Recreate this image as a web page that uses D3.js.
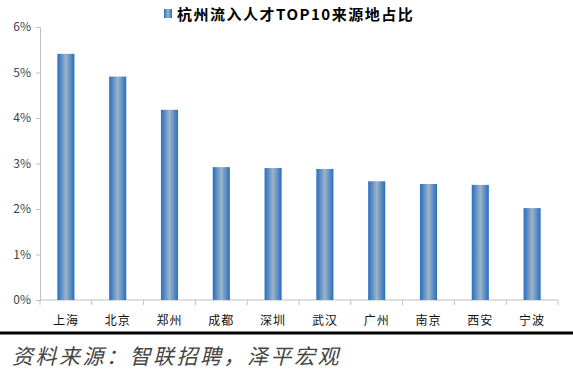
<!DOCTYPE html>
<html>
<head>
<meta charset="utf-8">
<script src="https://cdn.jsdelivr.net/npm/d3@7"></script>
<style>
  body { margin: 0; background: #fff; }
  text { font-family: "Noto Sans CJK SC", "DejaVu Sans", sans-serif; }
</style>
</head>
<body>
<div id="chart"></div>
<script>
// data
let cities = ['上海', '北京', '郑州', '成都', '深圳', '武汉', '广州', '南京', '西安', '宁波'];
let shares = [0.0541, 0.0491, 0.0418, 0.0292, 0.0290, 0.0288, 0.0261, 0.0255, 0.0253, 0.0202];
let yTicks = [0, 0.01, 0.02, 0.03, 0.04, 0.05, 0.06];
let title = '杭州流入人才TOP10来源地占比';
let source = '资料来源：智联招聘，泽平宏观';

let W = 573, H = 375;
let margin = {top: 27, right: 15, bottom: 75, left: 40};
let width = W - margin.left - margin.right;
let height = H - margin.top - margin.bottom;

let svg = d3.select('#chart')
    .append('svg')
    .attr('width', W)
    .attr('height', H);

// bar gradient
let grad = svg.append('defs').append('linearGradient')
    .attr('id', 'barGrad')
    .attr('x1', '0%').attr('x2', '100%')
    .attr('y1', '0%').attr('y2', '0%');
grad.append('stop').attr('offset', '0%').attr('stop-color', '#2a6fc2');
grad.append('stop').attr('offset', '15%').attr('stop-color', '#4a82c2');
grad.append('stop').attr('offset', '50%').attr('stop-color', '#9db4c8');
grad.append('stop').attr('offset', '85%').attr('stop-color', '#4a82c2');
grad.append('stop').attr('offset', '100%').attr('stop-color', '#2a6fc2');

let g = svg.append('g').attr('transform', 'translate(' + margin.left + ',' + margin.top + ')');

//Scales
let x = d3.scaleBand().domain(cities).range([0, width]).paddingInner(0.67).paddingOuter(0.335);
let xTickScale = d3.scaleBand().domain(cities).range([0, width]);
let y = d3.scaleLinear().domain([0, 0.06]).range([height, 0]);

//Y Axis
let yAxisCall = d3.axisLeft(y).tickValues(yTicks).tickFormat(d3.format('.0%')).tickSize(4).tickPadding(5);
let yAxis = g.append('g').call(yAxisCall);
yAxis.select('.domain').attr('stroke', '#bfbfbf');
yAxis.selectAll('.tick line').attr('stroke', '#bfbfbf');
yAxis.selectAll('.tick text').attr('font-size', '12px').attr('fill', '#444');

//X Axis
let xAxis = g.append('g').attr('transform', 'translate(0,' + height + ')');
xAxis.append('line')
    .attr('x1', 0).attr('x2', width)
    .attr('y1', 0).attr('y2', 0)
    .attr('stroke', '#bfbfbf');
xAxis.selectAll('.sep')
    .data(cities.concat(['end']))
    .enter()
    .append('line')
    .attr('x1', function (d, i) { return i * xTickScale.bandwidth(); })
    .attr('x2', function (d, i) { return i * xTickScale.bandwidth(); })
    .attr('y1', 0).attr('y2', 5)
    .attr('stroke', '#bfbfbf');
xAxis.selectAll('.lbl')
    .data(cities)
    .enter()
    .append('text')
    .attr('x', function (d) { return xTickScale(d) + xTickScale.bandwidth() / 2; })
    .attr('y', 25)
    .attr('text-anchor', 'middle')
    .attr('font-size', '12px')
    .attr('letter-spacing', '1px')
    .attr('fill', '#111')
    .text(function (d) { return d; });

//Bars
g.selectAll('rect.bar')
    .data(shares)
    .enter()
    .append('rect')
    .attr('class', 'bar')
    .attr('x', function (d, i) { return x(cities[i]); })
    .attr('y', function (d) { return y(d); })
    .attr('width', x.bandwidth())
    .attr('height', function (d) { return height - y(d); })
    .attr('fill', 'url(#barGrad)');

//Legend / title
svg.append('rect')
    .attr('x', 164).attr('y', 9)
    .attr('width', 8).attr('height', 9)
    .attr('fill', 'url(#barGrad)');
svg.append('text')
    .attr('x', 177).attr('y', 20)
    .attr('font-size', '15px')
    .attr('font-weight', 'bold')
    .attr('letter-spacing', '1.5px')
    .attr('fill', '#000')
    .text(title);

//Footer rule and source
svg.append('line')
    .attr('x1', 0).attr('x2', W)
    .attr('y1', 333).attr('y2', 333)
    .attr('stroke', '#000')
    .attr('stroke-width', 3);
svg.append('text')
    .attr('x', 12).attr('y', 364)
    .attr('font-size', '21px')
    .attr('font-style', 'italic')
    .attr('letter-spacing', '2.5px')
    .attr('fill', '#444')
    .text(source);
</script>
</body>
</html>
